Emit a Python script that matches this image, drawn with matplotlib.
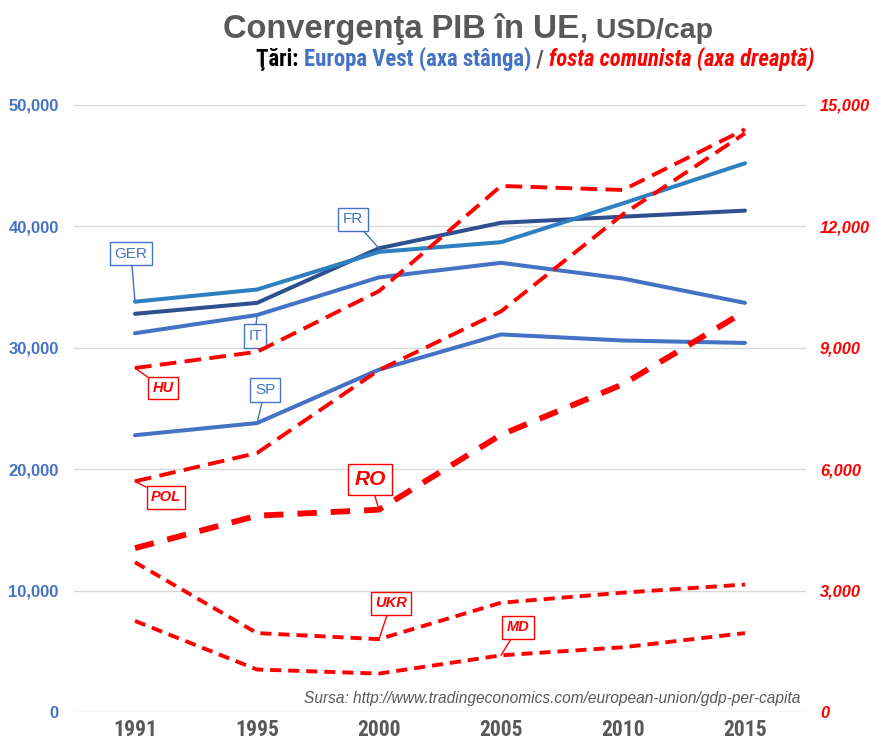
import matplotlib
matplotlib.use('Agg')
import matplotlib.pyplot as plt
from matplotlib.ticker import StrMethodFormatter

plt.rcParams['font.family'] = ['Liberation Sans', 'DejaVu Sans']
plt.rcParams['lines.scale_dashes'] = False

# categories
years = ['1991', '1995', '2000', '2005', '2010', '2015']

# Europa Vest (left axis), USD/cap
ger = [33800, 34800, 37900, 38700, 41900, 45200]
fr = [32800, 33700, 38200, 40300, 40800, 41300]
it = [31200, 32700, 35800, 37000, 35700, 33700]
sp = [22800, 23800, 28200, 31100, 30600, 30400]

# fosta comunista (right axis), USD/cap
hu = [8500, 8900, 10400, 13000, 12900, 14400]
pol = [5700, 6400, 8450, 9900, 12300, 14300]
ro = [4050, 4850, 5000, 6850, 8100, 9900]
ukr = [3700, 1950, 1800, 2700, 2950, 3150]
md = [2250, 1050, 950, 1400, 1600, 1950]

BLUE = '#4472C4'
RED = '#FF0000'
GRAY = '#595959'
NARROW = ['Roboto Condensed', 'Liberation Sans Narrow', 'Liberation Sans', 'DejaVu Sans']

W, H = 878, 747
fig = plt.figure(figsize=(W / 100, H / 100), dpi=100)
ax = fig.add_axes([74 / W, 1 - 712 / H, (806 - 74) / W, (712 - 105) / H])
ax2 = ax.twinx()

x = list(range(len(years)))

ax.plot(x, it, color=BLUE, lw=2.9, solid_capstyle='round', zorder=3)
ax.plot(x, sp, color=BLUE, lw=2.9, solid_capstyle='round', zorder=3)
ax.plot(x, fr, color='#2F4F8F', lw=2.9, solid_capstyle='round', zorder=3)
ax.plot(x, ger, color='#2E80C0', lw=2.9, solid_capstyle='round', zorder=3)

ax2.plot(x, hu, color=RED, lw=2.8, dashes=(12, 6))
ax2.plot(x, pol, color=RED, lw=2.8, dashes=(12, 6))
ax2.plot(x, ro, color=RED, lw=4.2, dashes=(14, 10))
ax2.plot(x, ukr, color=RED, lw=2.8, dashes=(8, 5))
ax2.plot(x, md, color=RED, lw=2.8, dashes=(8, 5))

ax.set_xlim(-0.5, len(years) - 0.5)
ax.set_ylim(0, 50000)
ax2.set_ylim(0, 15000)
ax.set_yticks(range(0, 50001, 10000))
ax2.set_yticks(range(0, 15001, 3000))
ax.set_xticks(x)
ax.set_xticklabels(years)
ax.yaxis.set_major_formatter(StrMethodFormatter('{x:,.0f}'))
ax2.yaxis.set_major_formatter(StrMethodFormatter('{x:,.0f}'))

ax.grid(axis='y', color='#D9D9D9', lw=1)
ax.set_axisbelow(True)
for a in (ax, ax2):
    for s in a.spines.values():
        s.set_visible(False)
    a.tick_params(length=0)

ax.tick_params(axis='y', pad=11, labelcolor=BLUE, labelsize=12)
ax2.tick_params(axis='y', pad=10, labelcolor=RED, labelsize=11.8)
ax.tick_params(axis='x', pad=5, labelcolor=GRAY, labelsize=15.5)
for t in ax.get_yticklabels():
    t.set_fontweight('bold')
for t in ax2.get_yticklabels():
    t.set_fontweight('bold')
    t.set_fontstyle('italic')
for t in ax.get_xticklabels():
    t.set_fontweight('bold')
    t.set_family(NARROW)


def callout(a, label, xi, yv, dx, dy, color, italic=False, size=10.5):
    # dx, dy in pixels, box centre relative to the data point
    a.annotate(label, xy=(xi, yv), xytext=(dx * 0.72, dy * 0.72),
               textcoords='offset points', ha='center', va='center',
               color=color, fontsize=size,
               fontweight='bold' if italic else 'normal',
               fontstyle='italic' if italic else 'normal',
               bbox=dict(boxstyle='square,pad=0.3', fc='white', ec=color, lw=1),
               arrowprops=dict(arrowstyle='-', color=color, lw=1,
                               shrinkA=0, shrinkB=0),
               zorder=6)


callout(ax, 'GER', 0, ger[0], -4, 48, BLUE, size=11)
callout(ax, 'FR', 2, fr[2], -26, 29, BLUE, size=11)
callout(ax, 'IT', 1, it[1], -2, -21, BLUE, size=11)
callout(ax, 'SP', 1, sp[1], 8, 33, BLUE, size=11)
callout(ax2, 'HU', 0, hu[0], 28, -20, RED, italic=True)
callout(ax2, 'POL', 0, pol[0], 31, -16, RED, italic=True)
callout(ax2, 'RO', 2, ro[2], -9, 30, RED, italic=True, size=15)
callout(ax2, 'UKR', 2, ukr[2], 12, 36, RED, italic=True)
callout(ax2, 'MD', 3, md[3], 17, 28, RED, italic=True)

fig.text(800 / W, 1 - 698 / H,
         'Sursa: http://www.tradingeconomics.com/european-union/gdp-per-capita',
         ha='right', va='center', fontsize=11.2, style='italic', color=GRAY)


def pieces(xp, yp, parts):
    # multi-coloured line of text, positioned in pixels (baseline)
    r = fig.canvas.get_renderer()
    for s, kw in parts:
        t = fig.text(xp / W, 1 - yp / H, s, va='baseline', ha='left', **kw)
        xp += t.get_window_extent(r).width


pieces(223, 38, [
    ('Convergenţa PIB în ', dict(fontsize=23.5, fontweight='bold', color=GRAY)),
    ('UE', dict(fontsize=24, fontweight='bold', color=GRAY)),
    (', USD/cap', dict(fontsize=20.5, fontweight='bold', color=GRAY)),
])
pieces(256, 66, [
    ('Ţări: ', dict(fontsize=16.4, fontweight='bold', color='black', family=NARROW)),
    ('Europa Vest (axa stânga)', dict(fontsize=16.4, fontweight='bold', color=BLUE, family=NARROW)),
    (' / ', dict(fontsize=16.4, fontweight='bold', color=GRAY, family=NARROW)),
    ('fosta comunista (axa dreaptă)', dict(fontsize=16.4, fontweight='bold', style='italic',
                                           color=RED, family=NARROW)),
])

fig.savefig('out.png', dpi=100)
